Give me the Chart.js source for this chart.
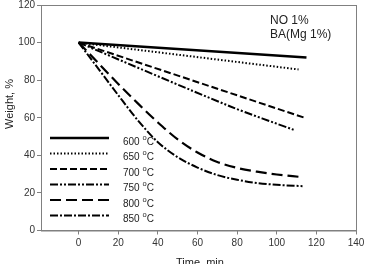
<!DOCTYPE html>
<html>
<head>
<meta charset="utf-8">
<style>
  html, body { margin: 0; padding: 0; background: #fff; }
  #wrap { width: 365px; height: 264px; }
</style>
<script src="https://cdn.jsdelivr.net/npm/chart.js@4/dist/chart.umd.min.js"></script>
</head>
<body>
<div id="wrap"><canvas id="chart"></canvas></div>
<script>
// temperatures (legend) and time / weight readings per series
const temps = ['600', '650', '700', '750', '800', '850'];

const time600 = [0, 115];
const weight600 = [100, 92];
const time650 = [0, 111];
const weight650 = [100, 85.7];
const time700 = [0, 114];
const weight700 = [100, 60];
const time750 = [0, 76.6, 108.5];
const weight750 = [100, 66, 53.6];
const time800 = [0, 10, 20, 30, 40, 50, 60, 70, 80, 90, 100, 112];
const weight800 = [100, 89, 78, 67.5, 57.5, 48.5, 41.5, 36.5, 33.3, 31.3, 29.8, 28.5];
const time850 = [0, 10, 20, 30, 40, 50, 60, 70, 80, 90, 100, 113];
const weight850 = [100, 86, 72, 58.5, 47, 39, 33.5, 29.5, 27, 25.3, 24.3, 23.6];

const xTicks = [0, 20, 40, 60, 80, 100, 120, 140];

const times = [time600, time650, time700, time750, time800, time850];
const weights = [weight600, weight650, weight700, weight750, weight800, weight850];
const dashes = [[], [1.5, 2], [7, 3], [8, 2, 2, 2, 2, 2], [11, 5], [8, 2, 2, 2]];
const widths = [2.5, 2, 2, 2, 2.2, 2];
const tensions = [0, 0, 0, 0.3, 0.4, 0.4];

const FONT = '"Liberation Sans", Arial, sans-serif';

const datasets = temps.map((t, i) => ({
  label: t + ' °C',
  data: times[i].map((x, j) => ({ x: x, y: weights[i][j] })),
  borderColor: '#000',
  borderWidth: widths[i],
  borderDash: dashes[i],
  pointRadius: 0,
  fill: false,
  tension: tensions[i],
  cubicInterpolationMode: i >= 4 ? 'monotone' : 'default'
}));

// frame, legend, annotation and axis titles
const extras = {
  id: 'extras',
  afterDraw(chart) {
    const ctx = chart.ctx;
    const a = chart.chartArea;
    ctx.save();
    ctx.strokeStyle = '#808080';
    ctx.lineWidth = 1;
    ctx.strokeRect(a.left + 0.5, a.top + 0.5, a.right - a.left, a.bottom - a.top);

    // legend inside plot
    const rowY = [138, 153.5, 169, 184.5, 200, 215.5];
    chart.data.datasets.forEach((ds, i) => {
      const y = rowY[i];
      ctx.beginPath();
      ctx.setLineDash(ds.borderDash);
      ctx.lineWidth = ds.borderWidth;
      ctx.strokeStyle = '#000';
      ctx.moveTo(50, y);
      ctx.lineTo(109, y);
      ctx.stroke();
      ctx.setLineDash([]);
      ctx.fillStyle = '#222';
      ctx.textBaseline = 'alphabetic';
      ctx.textAlign = 'left';
      ctx.font = '10px ' + FONT;
      const base = temps[i] + ' ';
      ctx.fillText(base, 123, y + 6.5);
      let w = ctx.measureText(base).width;
      ctx.font = '7.5px ' + FONT;
      ctx.fillText('o', 123 + w, y + 1.5);
      w += ctx.measureText('o').width;
      ctx.font = '10px ' + FONT;
      ctx.fillText('C', 123 + w, y + 6.5);
    });

    ctx.fillStyle = '#222';
    ctx.font = '12px ' + FONT;
    ctx.textAlign = 'left';
    ctx.fillText('NO 1%', 270, 24);
    ctx.fillText('BA(Mg 1%)', 270, 38);

    ctx.font = '11px ' + FONT;
    ctx.textAlign = 'center';
    ctx.fillText('Time, min', 200, 266);
    ctx.translate(13, 104);
    ctx.rotate(-Math.PI / 2);
    ctx.fillText('Weight, %', 0, 0);
    ctx.restore();
  }
};

new Chart(document.getElementById('chart'), {
  type: 'line',
  data: { datasets: datasets },
  plugins: [extras],
  options: {
    responsive: true,
    maintainAspectRatio: false,
    animation: false,
    layout: { padding: { top: 5, right: 9, left: 0, bottom: 0 } },
    plugins: { legend: { display: false }, tooltip: { enabled: false } },
    scales: {
      x: {
        type: 'linear',
        min: -19,
        max: 140,
        afterBuildTicks: (axis) => { axis.ticks = xTicks.map(v => ({ value: v })); },
        afterFit: (scale) => {
          scale.height = 33.5;
          scale.paddingLeft = 0;
          scale.paddingRight = 0;
        },
        grid: { drawOnChartArea: false, tickLength: 4, color: '#808080' },
        border: { color: '#808080' },
        ticks: { font: { size: 10, family: FONT }, color: '#333', padding: 3, maxRotation: 0 }
      },
      y: {
        type: 'linear',
        min: 0,
        max: 120,
        afterFit: (scale) => {
          scale.width = 41;
          scale.paddingTop = 0;
          scale.paddingBottom = 0;
        },
        grid: { drawOnChartArea: false, tickLength: 4, color: '#808080' },
        border: { color: '#808080' },
        ticks: { stepSize: 20, font: { size: 10, family: FONT }, color: '#333', padding: 2 }
      }
    }
  }
});
</script>
</body>
</html>
